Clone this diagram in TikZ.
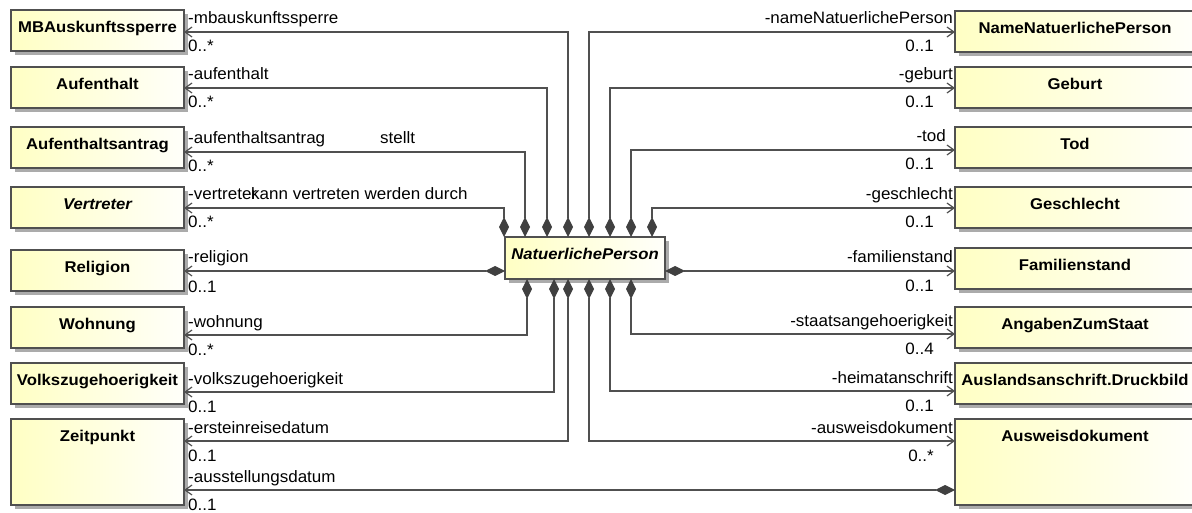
\documentclass[tikz,border=0pt]{standalone}
\usepackage{fontspec}
\setmainfont{Liberation Sans}[FakeStretch=1.07]
\newfontfamily\lblfont{Liberation Sans}[FakeStretch=1.03]
\usetikzlibrary{arrows.meta,shadows}
\definecolor{linec}{HTML}{505050}
\definecolor{dia}{HTML}{404040}
\definecolor{ylw}{HTML}{FFFFC4}
\definecolor{ylw2}{HTML}{FFFFFA}
\definecolor{shd}{HTML}{ABABAB}
\begin{document}
\begin{tikzpicture}[x=1pt,y=-1pt,
  cls/.style={draw=linec, line width=1.1pt, left color=ylw, right color=ylw2,
    drop shadow={shadow xshift=4pt,shadow yshift=-4pt,fill=shd,opacity=1},
    minimum height=41, inner sep=0pt, outer sep=0pt,
    font=\fontsize{15.6pt}{18pt}\selectfont\bfseries, text height=11pt, text depth=7.2pt},
  tall/.style={minimum height=86, text depth=52pt},
  lw/.style={minimum width=173},
  rw/.style={minimum width=240},
  lbl/.style={font=\lblfont\fontsize{16.5pt}{18pt}\selectfont, inner sep=0pt, anchor=base west},
  lblr/.style={font=\lblfont\fontsize{16.5pt}{18pt}\selectfont, inner sep=0pt, anchor=base east},
  comp/.style={draw=linec, line width=1.2pt,
    {Diamond[length=20pt,width=10pt,fill=dia,color=dia]}-{Straight Barb[length=7pt,width=10pt,color=linec]}}
]
\useasboundingbox (0,0) rectangle (1192,513);

% left column
\node[cls,lw] (mba) at (97.5,30.5) {MBAuskunftssperre};
\node[cls,lw] (aufenthalt) at (97.5,87.5) {Aufenthalt};
\node[cls,lw] (antrag) at (97.5,147.5) {Aufenthaltsantrag};
\node[cls,lw] (vertreter) at (97.5,207.5) {\itshape Vertreter};
\node[cls,lw] (religion) at (97.5,270.5) {Religion};
\node[cls,lw] (wohnung) at (97.5,327.5) {Wohnung};
\node[cls,lw] (volks) at (97.5,383.5) {Volkszugehoerigkeit};
\node[cls,lw,tall] (zeit) at (97.5,462) {Zeitpunkt};

% right column
\node[cls,rw] (name) at (1075,31.5) {NameNatuerlichePerson};
\node[cls,rw] (geburt) at (1075,87.5) {Geburt};
\node[cls,rw] (tod) at (1075,147.5) {Tod};
\node[cls,rw] (geschlecht) at (1075,207.5) {Geschlecht};
\node[cls,rw] (familienstand) at (1075,268.5) {Familienstand};
\node[cls,rw] (staat) at (1075,327.5) {AngabenZumStaat};
\node[cls,rw] (ausland) at (1075,383.5) {Auslandsanschrift.Druckbild};
\node[cls,rw,tall] (ausweis) at (1075,462) {Ausweisdokument};

% centre
\node[cls,minimum width=160,minimum height=42] (np) at (585,258) {\itshape NatuerlichePerson};

% connectors, top
\draw[comp] (np.north -| 504,0) |- (vertreter.east |- 0,208);
\draw[comp] (np.north -| 525,0) |- (antrag.east |- 0,152);
\draw[comp] (np.north -| 547,0) |- (aufenthalt.east |- 0,88);
\draw[comp] (np.north -| 568,0) |- (mba.east |- 0,32);
\draw[comp] (np.north -| 589,0) |- (name.west |- 0,32);
\draw[comp] (np.north -| 610,0) |- (geburt.west |- 0,88);
\draw[comp] (np.north -| 631,0) |- (tod.west |- 0,150);
\draw[comp] (np.north -| 652,0) |- (geschlecht.west |- 0,208);
% sides
\draw[comp] (np.west |- 0,271) -- (religion.east |- 0,271);
\draw[comp] (np.east |- 0,271) -- (familienstand.west |- 0,271);
% bottom
\draw[comp] (np.south -| 527,0) |- (wohnung.east |- 0,335);
\draw[comp] (np.south -| 554,0) |- (volks.east |- 0,392);
\draw[comp] (np.south -| 568,0) |- (zeit.east |- 0,441);
\draw[comp] (np.south -| 589,0) |- (ausweis.west |- 0,441);
\draw[comp] (np.south -| 610,0) |- (ausland.west |- 0,391);
\draw[comp] (np.south -| 631,0) |- (staat.west |- 0,334);
% Ausweisdokument -> Zeitpunkt
\draw[comp] (ausweis.west |- 0,490) -- (zeit.east |- 0,490);

% left labels
\node[lbl] (l1) at (188,24) {-mbauskunftssperre};
\node[lbl] (m1) at (188,52) {0..*};
\node[lbl] (l2) at (188,80) {-aufenthalt};
\node[lbl] (m2) at (188,108) {0..*};
\node[lbl] (l3) at (188,144) {-aufenthaltsantrag};
\node[lbl] (m3) at (188,172) {0..*};
\node[lbl] (s3) at (380,144) {stellt};
\node[lbl] (l4) at (188,200) {-vertreter};
\node[lbl] (s4) at (251,200) {kann vertreten werden durch};
\node[lbl] (m4) at (188,228) {0..*};
\node[lbl] (l5) at (188,263) {-religion};
\node[lbl] (m5) at (188,292) {0..1};
\node[lbl] (l6) at (188,327) {-wohnung};
\node[lbl] (m6) at (188,355) {0..*};
\node[lbl] (l7) at (188,384) {-volkszugehoerigkeit};
\node[lbl] (m7) at (188,412) {0..1};
\node[lbl] (l8) at (188,433) {-ersteinreisedatum};
\node[lbl] (m8) at (188,461) {0..1};
\node[lbl] (l9) at (188,482) {-ausstellungsdatum};
\node[lbl] (m9) at (188,510) {0..1};

% right labels
\node[lblr] (r1) at (953,24) {-nameNatuerlichePerson};
\node[lblr] (n1) at (934,52) {0..1};
\node[lblr] (r2) at (953,80) {-geburt};
\node[lblr] (n2) at (934,108) {0..1};
\node[lblr] (r3) at (946,142) {-tod};
\node[lblr] (n3) at (934,170) {0..1};
\node[lblr] (r4) at (953,200) {-geschlecht};
\node[lblr] (n4) at (934,228) {0..1};
\node[lblr] (r5) at (953,262) {-familienstand};
\node[lblr] (n5) at (934,291) {0..1};
\node[lblr] (r6) at (953,326) {-staatsangehoerigkeit};
\node[lblr] (n6) at (934,354) {0..4};
\node[lblr] (r7) at (953,383) {-heimatanschrift};
\node[lblr] (n7) at (934,411) {0..1};
\node[lblr] (r8) at (953,433) {-ausweisdokument};
\node[lblr] (n8) at (934,461) {0..*};
\end{tikzpicture}
\end{document}
